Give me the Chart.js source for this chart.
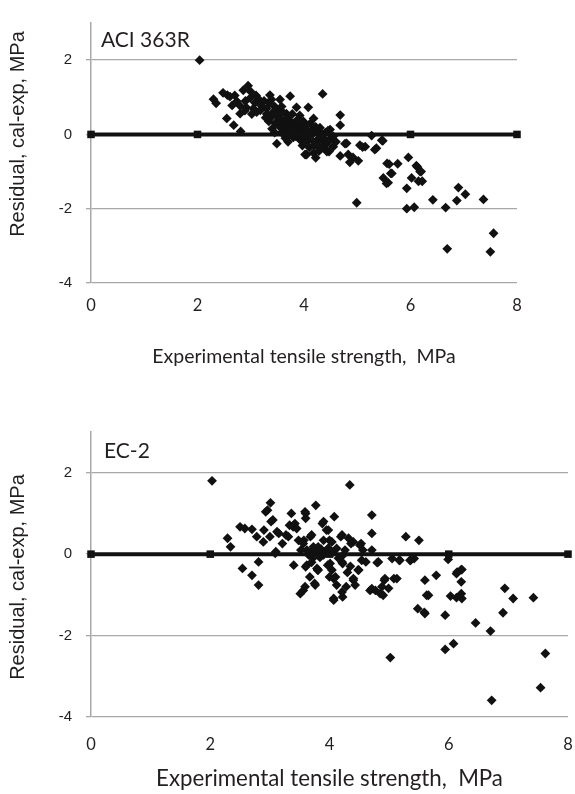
<!DOCTYPE html>
<html>
<head>
<meta charset="utf-8">
<title>Residual plots</title>
<script src="https://cdn.jsdelivr.net/npm/chart.js@4/dist/chart.umd.min.js"></script>
<style>
    body { margin: 0; background: #fff; }
    #wrap { position: relative; width: 575px; height: 794px; }
    canvas { position: absolute; left: 0; }
    #aciChart { top: 0; }
    #ecChart { top: 400px; }
</style>
</head>
<body>
<div id="wrap">
    <canvas id="aciChart" width="575" height="400"></canvas>
    <canvas id="ecChart" width="575" height="394"></canvas>
</div>
<script>
// Axis ticks (shared by both panels)
const xTicks = [0, 2, 4, 6, 8];
const yTicks = [-4, -2, 0, 2];

// Zero reference line
const zeroLineX = [0, 2, 4, 6, 8];
const zeroLineY = [0, 0, 0, 0, 0];

// ACI 363R residuals (experimental tensile strength, residual)
const aciX = [
    2.04, 2.30, 2.35, 2.48, 2.56, 2.61, 2.55, 2.68, 2.81, 2.95, 2.86, 2.74, 2.80, 2.89, 2.80, 2.99,
    3.08, 3.11, 3.20, 3.36, 3.39, 3.55, 3.74, 3.49, 3.39, 3.46, 3.55, 3.67, 3.74, 3.86, 3.92, 3.99,
    3.49, 3.70, 3.80, 4.02, 4.35, 4.08, 4.68, 4.68, 3.99, 4.18, 4.30, 4.49, 4.05, 4.24, 4.36, 4.55,
    4.77, 5.05, 5.15, 5.27, 5.46, 5.36, 4.05, 4.18, 4.43, 4.68, 4.83, 4.92, 4.86, 5.02, 5.33, 5.56,
    5.76, 5.96, 5.63, 5.49, 5.55, 6.11, 6.18, 6.02, 6.15, 5.93, 4.99, 5.93, 6.07, 6.42, 6.66, 6.90,
    7.03, 6.87, 7.37, 6.69, 7.50, 7.56, 4.22, 4.37, 4.47, 4.80, 5.10, 5.48, 5.60, 5.65, 6.20, 6.22,
    6.13, 5.58, 3.05, 3.15, 3.25, 3.30, 3.45, 3.50, 3.55, 3.60, 3.62, 3.65, 3.68, 3.72, 3.75, 3.78,
    3.80, 3.82, 3.85, 3.88, 3.90, 3.93, 3.95, 3.97, 4.00, 4.03, 4.07, 4.10, 4.12, 4.15, 4.20, 4.22,
    4.25, 4.28, 4.32, 4.40, 4.42, 4.45, 4.50, 4.55, 4.60, 3.30, 3.40, 3.58, 3.45, 3.65, 2.90, 2.92,
    3.00, 3.02, 3.10, 3.18, 3.35, 2.70, 2.65, 3.52, 3.58, 3.63, 3.70, 3.76, 3.84, 3.87, 3.92, 3.96,
    4.02, 4.08, 4.14, 4.18, 4.26, 4.34, 4.38, 4.46, 3.34, 3.28, 3.42
];
const aciY = [
    2.00, 0.95, 0.84, 1.12, 1.06, 1.02, 0.43, 0.25, 0.08, 1.31, 1.19, 0.89, 0.77, 0.64, 0.56, 0.98,
    0.85, 0.60, 0.77, 1.06, 0.94, 0.94, 1.03, 0.64, 0.47, 0.30, 0.43, 0.56, 0.35, 0.73, 0.51, 0.26,
    -0.25, -0.20, -0.08, -0.54, 1.09, 0.73, 0.52, 0.25, 0.35, 0.43, 0.18, 0.13, -0.08, -0.16, -0.20, -0.33,
    -0.25, -0.29, -0.33, -0.03, -0.16, -0.37, -0.54, -0.50, -0.46, -0.58, -0.54, -0.62, -0.75, -0.71, -0.41, -0.78,
    -0.79, -0.62, -1.05, -1.17, -1.32, -0.84, -1.00, -1.17, -1.26, -1.45, -1.84, -2.00, -1.96, -1.76, -1.97, -1.43,
    -1.61, -1.78, -1.75, -3.08, -3.16, -2.66, -0.63, -0.34, -0.46, -0.24, -0.34, -0.17, -0.80, -1.05, -1.00, -1.26,
    -0.88, -1.30, 0.70, 0.95, 0.90, 0.70, 0.75, 0.50, 0.20, 0.60, 0.35, 0.10, 0.45, 0.20, 0.00, 0.55,
    0.30, 0.15, -0.05, 0.40, 0.20, -0.15, 0.05, -0.30, 0.15, -0.20, 0.10, -0.35, 0.30, 0.00, -0.30, 0.20,
    0.05, -0.45, -0.10, 0.05, -0.25, 0.10, -0.10, -0.05, -0.20, 0.55, 0.15, 0.75, 0.05, -0.10, 0.90, 0.72,
    1.15, 0.55, 1.05, 0.65, 0.85, 1.05, 0.78, 0.38, 0.05, 0.25, 0.40, 0.15, 0.30, 0.05, 0.35, -0.10,
    0.20, -0.15, 0.10, -0.20, -0.30, 0.00, -0.12, -0.20, 0.35, 0.45, 0.60
];

// EC-2 residuals
const ecX = [
    2.03, 2.29, 2.34, 2.50, 2.58, 2.70, 2.54, 2.70, 2.81, 2.81, 2.78, 2.90, 2.93, 2.96, 3.01, 3.05,
    3.02, 3.10, 3.15, 3.21, 3.27, 3.36, 3.33, 3.42, 3.39, 3.40, 3.51, 3.56, 3.60, 3.60, 3.57, 3.60,
    3.68, 3.77, 3.67, 3.75, 3.80, 3.73, 3.88, 3.95, 4.00, 3.97, 4.00, 4.08, 4.10, 4.07, 4.19, 4.22,
    4.22, 4.28, 4.34, 4.36, 4.40, 4.48, 4.53, 4.56, 4.61, 4.68, 4.71, 4.71, 4.71, 4.77, 4.80, 4.90,
    4.92, 4.99, 5.02, 5.05, 5.08, 5.17, 5.28, 5.36, 5.42, 5.50, 5.48, 5.59, 5.60, 5.63, 5.79, 5.94,
    5.94, 5.99, 6.03, 6.08, 6.13, 6.13, 6.21, 6.21, 6.21, 6.22, 6.45, 6.70, 6.72, 6.91, 6.94, 7.08,
    7.42, 7.54, 7.62, 3.59, 3.90, 3.98, 3.70, 4.21, 4.32, 4.40, 4.51, 4.04, 3.90, 3.56, 3.81, 4.12,
    3.65, 3.90, 4.23, 4.54, 4.82, 5.18, 5.35, 3.62, 3.79, 4.01, 4.21, 3.81, 4.04, 4.49, 3.59, 3.76,
    4.07, 4.12, 4.21, 4.07, 4.40, 4.43, 4.71, 4.88, 4.85, 4.93, 5.13, 3.00, 3.12, 2.89, 3.09, 3.31,
    3.45, 3.48, 6.14, 6.22, 5.66, 5.60, 3.62, 3.68, 3.72, 3.78, 3.84, 3.86, 3.95, 3.98, 4.06, 4.15,
    4.26, 4.30, 4.35, 3.70, 3.52
];
const ecY = [
    1.80, 0.39, 0.18, 0.67, 0.63, 0.61, -0.35, -0.52, -0.76, -0.19, 0.43, 0.59, 1.04, 1.08, 1.26, 0.84,
    0.80, 0.06, 0.51, 0.26, 0.47, 1.00, 0.71, 0.75, 0.67, -0.27, -0.97, -0.89, 1.00, 0.88, 0.34, -0.31,
    0.43, 1.20, -0.56, -0.72, -0.39, 0.18, 0.75, 0.59, 0.34, -0.27, -0.56, 0.92, -0.56, -1.13, 0.43, -0.23,
    -1.05, -0.80, 1.70, 0.26, -0.64, -0.39, 0.26, 0.10, -0.19, -0.89, 0.96, 0.51, 0.10, -0.89, -0.21, -1.01,
    -0.64, -0.84, -2.54, -0.11, -0.60, -0.15, 0.43, -0.15, -0.11, 0.34, -1.34, -1.43, -0.64, -1.01, -0.52, -1.50,
    -2.34, -0.13, -1.03, -2.20, -0.48, -1.07, -0.38, -0.68, -0.97, -1.09, -1.69, -1.89, -3.59, -1.44, -0.84, -1.09,
    -1.07, -3.28, -2.44, 1.04, 0.80, 0.59, 0.47, 0.47, 0.39, 0.30, 0.22, 0.30, 0.34, 0.26, 0.18, 0.14,
    -0.02, -0.02, -0.02, -0.15, -0.19, -0.15, -0.15, -0.27, -0.35, -0.23, -0.19, -0.39, -0.39, -0.39, -0.80, -0.76,
    -0.60, -0.76, -0.93, -1.09, -0.60, -0.76, -0.85, -0.80, -0.97, -0.60, -0.60, 0.43, 0.55, 0.30, 0.02, 0.43,
    0.63, 0.34, -0.44, -0.38, -1.01, -1.46, 0.10, 0.05, -0.10, 0.05, -0.08, 0.12, 0.05, 0.15, 0.05, -0.10,
    0.10, -0.45, -0.30, -0.20, 0.10
];

const GRID_GREY = '#a8a8a8';
const TEXT_COLOR = '#231f20';

// Build point objects from paired arrays
function toPoints(xs, ys) {
    return xs.map((x, i) => ({ x: x, y: ys[i] }));
}

// Panel label inside the plot + rotated y axis title
const panelText = {
    id: 'panelText',
    afterDraw(chart, args, opts) {
        const ctx = chart.ctx;
        ctx.save();
        ctx.fillStyle = TEXT_COLOR;

        // Panel label
        ctx.font = opts.labelSize + 'px Lato';
        ctx.textBaseline = 'alphabetic';
        ctx.textAlign = 'left';
        ctx.fillText(opts.label, chart.chartArea.left + opts.dx, chart.chartArea.top + opts.dy);

        // Y axis title
        ctx.translate(opts.titleX, opts.titleY);
        ctx.rotate(-Math.PI / 2);
        ctx.font = '20px "Liberation Sans"';
        ctx.textAlign = 'center';
        ctx.textBaseline = 'middle';
        ctx.fillText('Residual, cal-exp, MPa', 0, 0);
        ctx.restore();
    }
};

function makeChart(canvasId, xs, ys, cfg) {
    const ctx = document.getElementById(canvasId);
    return new Chart(ctx, {
        type: 'scatter',
        data: {
            datasets: [{
                type: 'line',
                data: toPoints(zeroLineX, zeroLineY),
                borderColor: '#111',
                backgroundColor: '#111',
                borderWidth: 4,
                pointStyle: 'rect',
                pointRadius: 2.5,
                clip: false
            }, {
                data: toPoints(xs, ys),
                pointStyle: 'rectRot',
                pointRadius: 4.9,
                backgroundColor: '#111',
                borderWidth: 0
            }]
        },
        options: {
            responsive: false,
            animation: false,
            layout: {
                autoPadding: false,
                padding: { left: 0, right: cfg.padRight, top: cfg.padTop, bottom: 0 }
            },
            plugins: {
                legend: { display: false },
                tooltip: { enabled: false },
                panelText: cfg.text
            },
            scales: {
                x: {
                    type: 'linear',
                    min: 0,
                    max: 8,
                    afterBuildTicks: (scale) => { scale.ticks = xTicks.map(v => ({ value: v })); },
                    afterFit: (scale) => {
                        scale.height = cfg.xHeight;
                        scale.paddingLeft = 0;
                        scale.paddingRight = 0;
                    },
                    grid: { display: false, drawTicks: false, tickLength: 0 },
                    border: { display: false },
                    ticks: {
                        padding: cfg.xTickPad,
                        color: TEXT_COLOR,
                        font: { family: 'Lato', size: 16.5 },
                        maxRotation: 0
                    },
                    title: {
                        display: true,
                        text: 'Experimental tensile strength,  MPa',
                        color: TEXT_COLOR,
                        font: { family: 'Lato', size: cfg.xTitleSize },
                        padding: { top: 0, bottom: cfg.xTitlePad }
                    }
                },
                y: {
                    type: 'linear',
                    min: -4,
                    max: 3,
                    afterBuildTicks: (scale) => { scale.ticks = yTicks.map(v => ({ value: v })); },
                    afterFit: (scale) => { scale.width = 91; },
                    grid: { color: GRID_GREY, lineWidth: 1.3, tickLength: 5 },
                    border: { display: true, color: GRID_GREY, width: 1.5 },
                    ticks: {
                        padding: 14,
                        color: TEXT_COLOR,
                        font: { family: 'Liberation Sans', size: 15 }
                    },
                    title: { display: false }
                }
            }
        },
        plugins: [panelText]
    });
}

document.addEventListener('DOMContentLoaded', () => {
    makeChart('aciChart', aciX, aciY, {
        padRight: 58, padTop: 8, xHeight: 117, xTickPad: 13,
        xTitleSize: 19.5, xTitlePad: 32,
        text: { label: 'ACI 363R', labelSize: 21, dx: 10, dy: 24, titleX: 18.5, titleY: 134 }
    });
    makeChart('ecChart', ecX, ecY, {
        padRight: 7, padTop: 32, xHeight: 77, xTickPad: 18,
        xTitleSize: 22.3, xTitlePad: 1.6,
        text: { label: 'EC-2', labelSize: 21, dx: 13, dy: 26, titleX: 18.5, titleY: 177 }
    });
});
</script>
</body>
</html>
